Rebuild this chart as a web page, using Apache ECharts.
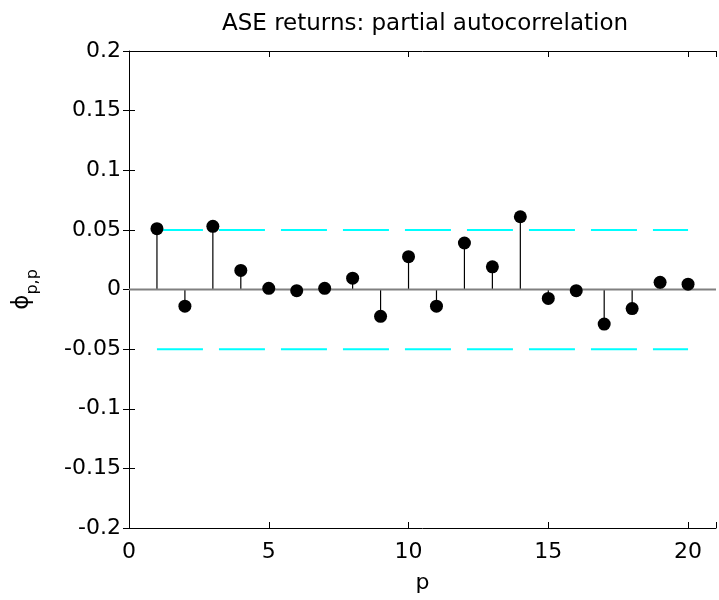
<!DOCTYPE html>
<html>
<head>
<meta charset="utf-8">
<script src="https://cdn.jsdelivr.net/npm/echarts@6/dist/echarts.min.js"></script>
<style>
  html, body { margin: 0; padding: 0; background: #fff; }
  #chart { width: 719px; height: 600px; }
</style>
</head>
<body>
<div id="chart"></div>
<script>
// ---- data ----
const lags = [1, 2, 3, 4, 5, 6, 7, 8, 9, 10, 11, 12, 13, 14, 15, 16, 17, 18, 19, 20];
const pacf = [0.051, -0.014, 0.053, 0.016, 0.001, -0.001, 0.001, 0.0095, -0.0225, 0.0275,
              -0.014, 0.039, 0.019, 0.061, -0.0075, -0.001, -0.029, -0.016, 0.006, 0.0045];
const bandUpper = [[1, 0.05], [20, 0.05]];
const bandLower = [[1, -0.05], [20, -0.05]];
const zeroLine = [[0, 0], [21, 0]];
const xRange = [0, 21];
const yRange = [-0.2, 0.2];
const titleText = 'ASE returns: partial autocorrelation';
const xName = 'p';

const FONT = 'DejaVu Sans';
const stemData = lags.map((l, i) => [l, pacf[i]]);

const chart = echarts.init(document.getElementById('chart'), null, { renderer: 'canvas' });
const hiddenAxis = {
  axisLabel: { show: false },
  splitLine: { show: false },
  axisTick: { show: true, inside: true, length: 6, lineStyle: { color: '#000' } }
};
chart.setOption({
  animation: false,
  backgroundColor: '#fff',
  textStyle: { fontFamily: FONT },
  title: {
    text: titleText,
    left: 420,
    top: 8,
    textAlign: 'center',
    textStyle: { fontFamily: FONT, fontSize: 23, fontWeight: 'normal', color: '#000' }
  },
  grid: { left: 129, right: 0, top: 51, bottom: 72, containLabel: false },
  xAxis: [
    {
      type: 'value', min: xRange[0], max: xRange[1], interval: 5, position: 'bottom',
      axisLine: { show: true, onZero: false, lineStyle: { color: '#000', width: 1 } },
      axisTick: { show: true, inside: true, length: 6, lineStyle: { color: '#000' } },
      axisLabel: { fontFamily: FONT, fontSize: 22, color: '#000', margin: 13,
        formatter: v => (v % 5 === 0 ? String(v) : '') },
      splitLine: { show: false },
      name: xName, nameLocation: 'middle', nameGap: 44,
      nameTextStyle: { fontFamily: FONT, fontSize: 22, color: '#000' }
    },
    Object.assign({
      type: 'value', min: xRange[0], max: xRange[1], interval: 5, position: 'top',
      axisLine: { show: true, onZero: false, lineStyle: { color: '#000', width: 1 } }
    }, hiddenAxis)
  ],
  yAxis: [
    {
      type: 'value', min: yRange[0], max: yRange[1], interval: 0.05, position: 'left',
      axisLine: { show: true, onZero: false, lineStyle: { color: '#000', width: 1 } },
      axisTick: { show: true, inside: true, length: 6, lineStyle: { color: '#000' } },
      axisLabel: { fontFamily: FONT, fontSize: 22, color: '#000', margin: 8 },
      splitLine: { show: false },
      name: '{a|ϕ}{b|p,p}', nameLocation: 'middle', nameGap: 88, nameRotate: 90,
      nameTextStyle: {
        color: '#000',
        rich: {
          a: { fontFamily: FONT, fontSize: 23, color: '#000', lineHeight: 38, verticalAlign: 'middle' },
          b: { fontFamily: FONT, fontSize: 16, color: '#000', lineHeight: 38, verticalAlign: 'bottom' }
        }
      }
    },
    Object.assign({
      type: 'value', min: yRange[0], max: yRange[1], interval: 0.05, position: 'right',
      axisLine: { show: false }
    }, hiddenAxis)
  ],
  series: [
    {
      type: 'custom', xAxisIndex: 0, yAxisIndex: 0, z: 2,
      data: stemData,
      renderItem: (params, api) => {
        const x = api.value(0), y = api.value(1);
        const p0 = api.coord([x, 0]);
        const p1 = api.coord([x, y]);
        return { type: 'line', shape: { x1: p0[0], y1: p0[1], x2: p1[0], y2: p1[1] },
                 style: { stroke: '#000', lineWidth: 1.2 } };
      },
      silent: true
    },
    {
      type: 'line', data: bandUpper, symbol: 'none', z: 3, silent: true,
      lineStyle: { color: '#00ffff', width: 2, type: [46, 16] }
    },
    {
      type: 'line', data: bandLower, symbol: 'none', z: 3, silent: true,
      lineStyle: { color: '#00ffff', width: 2, type: [46, 16] }
    },
    {
      type: 'line', data: zeroLine, symbol: 'none', z: 4, silent: true,
      lineStyle: { color: '#808080', width: 2 }
    },
    {
      type: 'scatter', data: stemData, symbol: 'circle', symbolSize: 13, z: 5, silent: true,
      itemStyle: { color: '#000', opacity: 1 }
    }
  ]
});
</script>
</body>
</html>
